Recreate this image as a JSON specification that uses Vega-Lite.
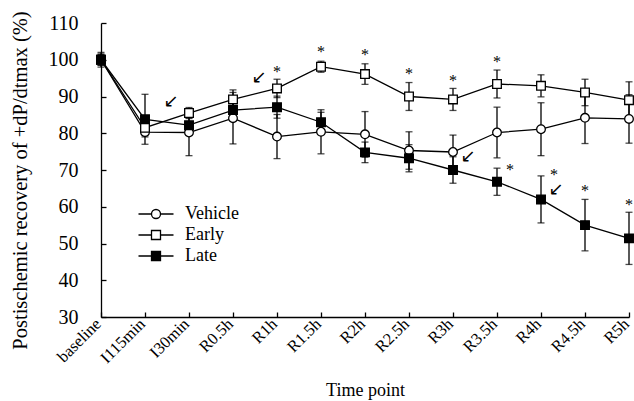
{
  "$schema": "https://vega.github.io/schema/vega-lite/v6.json",
  "width": 528,
  "height": 294,
  "autosize": {"type": "none"},
  "padding": {"left": 101, "top": 23, "right": 5, "bottom": 84},
  "background": "white",
  "config": {
    "font": "Liberation Serif",
    "view": {"stroke": null},
    "axis": {"domainColor": "black", "tickColor": "black", "labelColor": "black", "titleColor": "black", "labelFont": "Liberation Serif", "titleFont": "Liberation Serif", "titleFontWeight": "normal", "grid": false, "domainWidth": 1.3, "tickWidth": 1.3},
    "axisX": {"tickSize": -5, "labelPadding": 9, "labelOffset": -3, "labelFontSize": 16.5, "labelAngle": -45, "labelAlign": "right", "labelBaseline": "middle", "titleFontSize": 18, "titleFontWeight": "normal", "titleY": 73, "titleBaseline": "middle", "labelOverlap": false}
  },
  "datasets": {
    "pts": [
      {"t": "baseline", "series": "Vehicle", "v": 100, "lo": 98.5, "hi": 101.5},
      {"t": "I115min", "series": "Vehicle", "v": 80.3, "lo": 79.0, "hi": 81.6},
      {"t": "I30min", "series": "Vehicle", "v": 80.2, "lo": 73.9, "hi": 86.5},
      {"t": "R0.5h", "series": "Vehicle", "v": 84.1, "lo": 77.1, "hi": 91.1},
      {"t": "R1h", "series": "Vehicle", "v": 79.1, "lo": 73.1, "hi": 85.1},
      {"t": "R1.5h", "series": "Vehicle", "v": 80.4, "lo": 74.4, "hi": 86.4},
      {"t": "R2h", "series": "Vehicle", "v": 79.7, "lo": 73.5, "hi": 85.9},
      {"t": "R2.5h", "series": "Vehicle", "v": 75.3, "lo": 70.2, "hi": 80.4},
      {"t": "R3h", "series": "Vehicle", "v": 74.9, "lo": 70.3, "hi": 79.5},
      {"t": "R3.5h", "series": "Vehicle", "v": 80.2, "lo": 73.3, "hi": 87.1},
      {"t": "R4h", "series": "Vehicle", "v": 81.1, "lo": 73.9, "hi": 88.3},
      {"t": "R4.5h", "series": "Vehicle", "v": 84.2, "lo": 77.2, "hi": 91.2},
      {"t": "R5h", "series": "Vehicle", "v": 83.9, "lo": 77.3, "hi": 90.5},
      {"t": "baseline", "series": "Early", "v": 100, "lo": 98.5, "hi": 101.5},
      {"t": "I115min", "series": "Early", "v": 81.5, "lo": 80.0, "hi": 83.0},
      {"t": "I30min", "series": "Early", "v": 85.5, "lo": 84.0, "hi": 87.0},
      {"t": "R0.5h", "series": "Early", "v": 89.2, "lo": 86.6, "hi": 91.8},
      {"t": "R1h", "series": "Early", "v": 92.2, "lo": 89.7, "hi": 94.7},
      {"t": "R1.5h", "series": "Early", "v": 98.1, "lo": 96.6, "hi": 99.6},
      {"t": "R2h", "series": "Early", "v": 96.1, "lo": 93.3, "hi": 98.9},
      {"t": "R2.5h", "series": "Early", "v": 90.0, "lo": 86.2, "hi": 93.8},
      {"t": "R3h", "series": "Early", "v": 89.2, "lo": 86.2, "hi": 92.2},
      {"t": "R3.5h", "series": "Early", "v": 93.4, "lo": 89.6, "hi": 97.2},
      {"t": "R4h", "series": "Early", "v": 92.9, "lo": 89.9, "hi": 95.9},
      {"t": "R4.5h", "series": "Early", "v": 91.1, "lo": 87.5, "hi": 94.7},
      {"t": "R5h", "series": "Early", "v": 89.0, "lo": 84.0, "hi": 94.0},
      {"t": "baseline", "series": "Late", "v": 100, "lo": 98.0, "hi": 102.0},
      {"t": "I115min", "series": "Late", "v": 83.8, "lo": 77.0, "hi": 90.6},
      {"t": "I30min", "series": "Late", "v": 82.2, "lo": 80.2, "hi": 84.2},
      {"t": "R0.5h", "series": "Late", "v": 86.3, "lo": 84.3, "hi": 88.3},
      {"t": "R1h", "series": "Late", "v": 87.1, "lo": 84.1, "hi": 90.1},
      {"t": "R1.5h", "series": "Late", "v": 83.0, "lo": 80.3, "hi": 85.7},
      {"t": "R2h", "series": "Late", "v": 74.8, "lo": 72.0, "hi": 77.6},
      {"t": "R2.5h", "series": "Late", "v": 73.2, "lo": 69.5, "hi": 76.9},
      {"t": "R3h", "series": "Late", "v": 70.0, "lo": 66.4, "hi": 73.6},
      {"t": "R3.5h", "series": "Late", "v": 66.8, "lo": 63.1, "hi": 70.5},
      {"t": "R4h", "series": "Late", "v": 62.0, "lo": 55.6, "hi": 68.4},
      {"t": "R4.5h", "series": "Late", "v": 55.0, "lo": 48.0, "hi": 62.0},
      {"t": "R5h", "series": "Late", "v": 51.4, "lo": 44.3, "hi": 58.5}
    ],
    "stars": [
      {"t": "R1h", "y": 97.5, "label": "*"},
      {"t": "R1.5h", "y": 102.9, "label": "*"},
      {"t": "R2h", "y": 102.1, "label": "*"},
      {"t": "R2.5h", "y": 96.9, "label": "*"},
      {"t": "R3h", "y": 95.0, "label": "*"},
      {"t": "R3.5h", "y": 100.2, "label": "*"},
      {"t": "R4.5h", "y": 65.1, "label": "*"},
      {"t": "R5h", "y": 61.3, "label": "*"}
    ],
    "stars2": [
      {"t": "R3.5h", "y": 70.8, "label": "*"},
      {"t": "R4h", "y": 69.5, "label": "*"}
    ],
    "arrowsL": [
      {"t": "I30min", "y": 88.5, "label": "↙"},
      {"t": "R1h", "y": 95.0, "label": "↙"}
    ],
    "arrowsR": [
      {"t": "R3h", "y": 73.5, "label": "↙"},
      {"t": "R4h", "y": 64.6, "label": "↙"}
    ]
  },
  "encoding": {
    "x": {
      "field": "t", "type": "nominal", "sort": null,
      "scale": {"type": "point", "padding": 0, "domain": ["baseline", "I115min", "I30min", "R0.5h", "R1h", "R1.5h", "R2h", "R2.5h", "R3h", "R3.5h", "R4h", "R4.5h", "R5h"]},
      "axis": {"title": "Time point"}
    },
    "y": {"field": "v", "type": "quantitative", "scale": {"domain": [30, 110]},
      "axis": {"title": "Postischemic recovery of +dP/dtmax (%)", "tickCount": 9, "labelOverlap": false, "labelFontSize": 20, "labelPadding": 28, "tickSize": -5, "titleFontSize": 20.5, "titleX": -81, "titleY": 157, "titleAngle": -90, "titleBaseline": "middle", "titleAlign": "center"}}
  },
  "layer": [
    {
      "data": {"name": "pts"},
      "mark": {"type": "line", "color": "black", "strokeWidth": 1.3},
      "encoding": {"detail": {"field": "series"}}
    },
    {
      "data": {"name": "pts"},
      "mark": {"type": "rule", "color": "black", "strokeWidth": 1.3},
      "encoding": {"y": {"field": "lo", "type": "quantitative"}, "y2": {"field": "hi"}}
    },
    {
      "data": {"name": "pts"},
      "mark": {"type": "tick", "color": "black", "size": 7, "thickness": 1.3, "orient": "horizontal"},
      "encoding": {"y": {"field": "lo", "type": "quantitative"}}
    },
    {
      "data": {"name": "pts"},
      "mark": {"type": "tick", "color": "black", "size": 7, "thickness": 1.3, "orient": "horizontal"},
      "encoding": {"y": {"field": "hi", "type": "quantitative"}}
    },
    {
      "data": {"name": "pts"},
      "mark": {"type": "point", "filled": true, "stroke": "black", "strokeWidth": 1.3, "opacity": 1},
      "encoding": {
        "shape": {"field": "series", "type": "nominal", "scale": {"domain": ["Vehicle", "Early", "Late"], "range": ["circle", "square", "square"]}, "legend": null},
        "fill": {"field": "series", "type": "nominal", "scale": {"domain": ["Vehicle", "Early", "Late"], "range": ["white", "white", "black"]}, "legend": null},
        "size": {"value": 75}
      }
    },
    {
      "data": {"name": "pts"},
      "transform": [{"filter": "datum.series === 'none'"}],
      "mark": {"type": "point", "filled": false, "strokeWidth": 1.3, "opacity": 1},
      "encoding": {
        "shape": {"field": "series", "type": "nominal", "scale": {"domain": ["Vehicle", "Early", "Late"], "range": ["M-1.75,0H-0.45M0.45,0H1.75M-0.45,0A0.45,0.45,0,1,1,0.45,0A0.45,0.45,0,1,1,-0.45,0Z", "M-1.75,0H-0.45M0.45,0H1.75M-0.45,-0.45H0.45V0.45H-0.45Z", "M-1.75,0H-0.45M0.45,0H1.75M-0.45,-0.45H0.45V0.45H-0.45Z"]},
          "legend": {"title": null, "orient": "none", "legendX": 44, "legendY": 180, "padding": 0, "labelFontSize": 18, "labelFont": "Liberation Serif", "labelColor": "black", "symbolSize": 400, "symbolStrokeWidth": 1.3, "labelOffset": 18, "rowPadding": 1}},
        "fill": {"field": "series", "type": "nominal", "scale": {"domain": ["Vehicle", "Early", "Late"], "range": ["white", "white", "black"]}},
        "stroke": {"field": "series", "type": "nominal", "scale": {"domain": ["Vehicle", "Early", "Late"], "range": ["black", "black", "black"]}}
      }
    },
    {
      "data": {"name": "stars"},
      "mark": {"type": "text", "fontSize": 16, "font": "Liberation Serif", "baseline": "middle", "dy": 3},
      "encoding": {"y": {"field": "y", "type": "quantitative"}, "text": {"field": "label"}, "fill": {"value": "black"}}
    },
    {
      "data": {"name": "stars2"},
      "mark": {"type": "text", "fontSize": 16, "font": "Liberation Serif", "baseline": "middle", "dy": 3, "dx": 13},
      "encoding": {"y": {"field": "y", "type": "quantitative"}, "text": {"field": "label"}, "fill": {"value": "black"}}
    },
    {
      "data": {"name": "arrowsL"},
      "mark": {"type": "text", "fontSize": 18, "font": "DejaVu Sans", "baseline": "middle", "dx": -18},
      "encoding": {"y": {"field": "y", "type": "quantitative"}, "text": {"field": "label"}, "fill": {"value": "black"}}
    },
    {
      "data": {"name": "arrowsR"},
      "mark": {"type": "text", "fontSize": 18, "font": "DejaVu Sans", "baseline": "middle", "dx": 15},
      "encoding": {"y": {"field": "y", "type": "quantitative"}, "text": {"field": "label"}, "fill": {"value": "black"}}
    }
  ],
  "resolve": {"scale": {"shape": "independent", "fill": "independent", "stroke": "independent"}, "legend": {"shape": "independent", "fill": "independent", "stroke": "independent"}}
}
